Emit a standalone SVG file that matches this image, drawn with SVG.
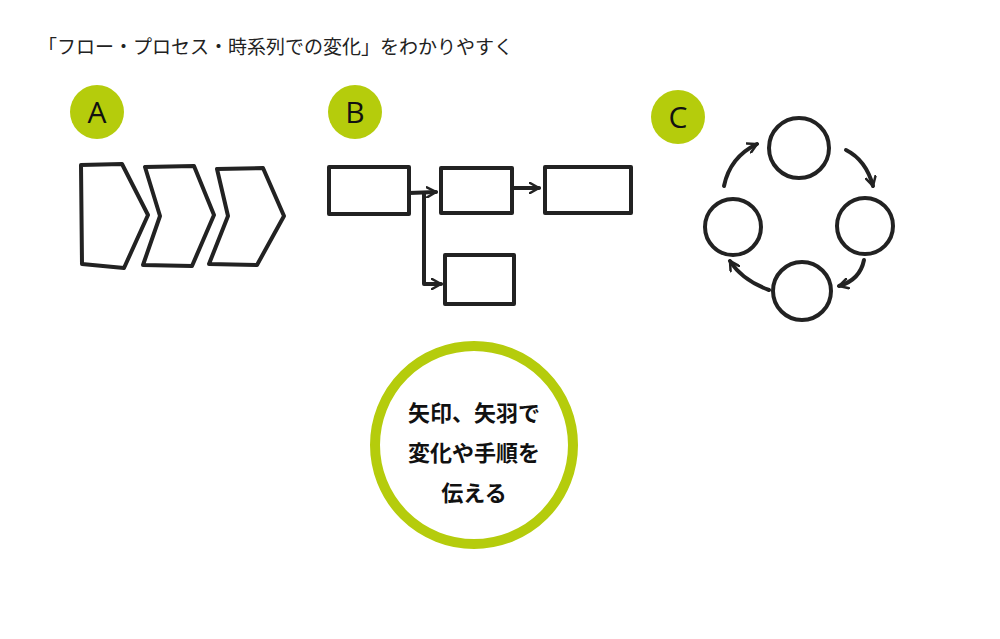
<svg xmlns="http://www.w3.org/2000/svg" width="1000" height="639" viewBox="0 0 1000 639">
<style>
.s{fill:none;stroke:#222;stroke-width:4;stroke-linejoin:round;stroke-linecap:round}
.b{fill:#b5cc0c}
.bt{font-family:"Open Sans","Noto Sans",sans-serif;font-size:30px;fill:#111;text-anchor:middle}
.t{font-family:"Noto Sans CJK JP",sans-serif;font-size:19px;fill:#222}
.m{font-family:"Noto Sans CJK JP",sans-serif;font-size:22px;font-weight:bold;fill:#111;text-anchor:middle}
</style>
<defs>
<marker id="ah" viewBox="0 0 12 12" refX="10" refY="6" markerWidth="12" markerHeight="12" markerUnits="userSpaceOnUse" orient="auto">
<path d="M1,1 L10,6 L1,11" fill="none" stroke="#222" stroke-width="2.5" stroke-linecap="round"/>
</marker>
</defs>
<rect width="1000" height="639" fill="#fff"/>
<text class="t" x="38" y="54">「フロー・プロセス・時系列での変化」をわかりやすく</text>
<g id="badgeA"><circle class="b" cx="97" cy="112" r="27"/><text class="bt" x="97" y="123">A</text></g>
<g id="badgeB"><circle class="b" cx="355" cy="112" r="27"/><text class="bt" x="355" y="123">B</text></g>
<g id="badgeC"><circle class="b" cx="678" cy="117" r="27"/><text class="bt" x="678" y="128">C</text></g>
<g id="chevron1"><path class="s" d="M81,165 L122,164 L148,215 L124,268 L82,264 Z"/></g>
<g id="chevron2"><path class="s" d="M145,167 L194,166 L214,215 L192,266 L143,265 L160,216 Z"/></g>
<g id="chevron3"><path class="s" d="M217,169 L263,168 L284,216 L257,265 L209,264 L228,216 Z"/></g>
<g id="b1"><rect class="s" x="329" y="167" width="80" height="47"/></g>
<g id="b2"><rect class="s" x="441" y="168" width="71" height="45"/></g>
<g id="b3"><rect class="s" x="545" y="167" width="86" height="46"/></g>
<g id="b4"><rect class="s" x="445" y="255" width="69" height="49"/></g>
<g id="c1"><circle class="s" cx="799" cy="148" r="30"/></g>
<g id="c2"><circle class="s" cx="865" cy="226" r="28"/></g>
<g id="c3"><circle class="s" cx="802" cy="291" r="29"/></g>
<g id="c4"><circle class="s" cx="733" cy="227" r="28"/></g>
<g id="connectors">
<path class="s" d="M409,193 L436,192" marker-end="url(#ah)"/>
<path class="s" d="M424,193 L424,284 L441,284" marker-end="url(#ah)"/>
<path class="s" d="M513,188 L539,188" marker-end="url(#ah)"/>
<path class="s" d="M724,186 Q730,157 757,144" marker-end="url(#ah)"/>
<path class="s" d="M846,150 Q866,160 873,186" marker-end="url(#ah)"/>
<path class="s" d="M864,260 Q860,280 839,286" marker-end="url(#ah)"/>
<path class="s" d="M769,290 Q742,280 730,261" marker-end="url(#ah)"/>
</g>
<g id="center">
<circle cx="474" cy="445" r="99" fill="none" stroke="#b5cc0c" stroke-width="10"/>
<text class="m" x="474" y="421">矢印、矢羽で</text>
<text class="m" x="474" y="461">変化や手順を</text>
<text class="m" x="474" y="501">伝える</text>
</g>
</svg>
